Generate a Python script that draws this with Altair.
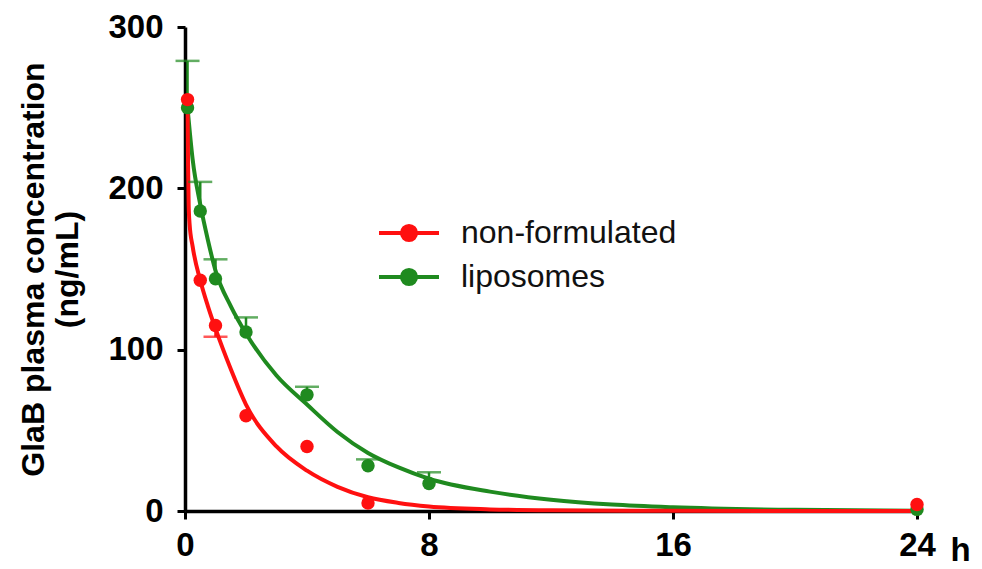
import altair as alt
import pandas as pd

series = ["non-formulated", "liposomes"]
colors = ["#ff1010", "#1f8a1f"]

# measured points
time_nf = [0.083, 0.5, 1, 2, 4, 6, 24]
conc_nf = [255, 143, 115, 59, 40, 5, 4]
time_lip = [0.083, 0.5, 1, 2, 4, 6, 8, 24]
conc_lip = [250, 186, 144, 111, 72, 28, 17, 1]

# error bars (one-sided)
err_nf_time = [1]
err_nf_base = [115]
err_nf_end = [108]
err_lip_time = [0.083, 0.5, 1, 2, 4, 6, 8]
err_lip_base = [250, 186, 144, 111, 72, 28, 17]
err_lip_end = [279, 204, 156, 120, 77, 32, 24]

# fitted curves
fit_nf_time = [0.083, 0.1, 0.12, 0.15, 0.25, 0.5, 0.75, 1, 1.5, 2, 3, 4, 5, 6, 7, 8, 10, 12, 16, 24]
fit_nf_conc = [255, 215, 190, 178, 164, 143, 127, 113, 88, 66, 40, 25, 15, 8.5, 5, 2.8, 1, 0.4, 0.1, 0]
fit_lip_time = [0.083, 0.25, 0.5, 0.75, 1, 1.5, 2, 3, 4, 5, 6, 7, 8, 10, 12, 14, 16, 20, 24]
fit_lip_conc = [250, 218, 190, 168, 149, 127, 110, 84, 66, 49, 36, 27, 20, 12, 7, 4, 2.3, 0.7, 0.2]

pts = pd.concat([
    pd.DataFrame({"t": time_lip, "c": conc_lip, "s": series[1], "o": 0}),
    pd.DataFrame({"t": time_nf, "c": conc_nf, "s": series[0], "o": 1}),
])
fits = pd.concat([
    pd.DataFrame({"t": fit_lip_time, "c": fit_lip_conc, "s": series[1], "o": 0}),
    pd.DataFrame({"t": fit_nf_time, "c": fit_nf_conc, "s": series[0], "o": 1}),
])
errs = pd.concat([
    pd.DataFrame({"t": err_lip_time, "c": err_lip_base, "e": err_lip_end, "s": series[1]}),
    pd.DataFrame({"t": err_nf_time, "c": err_nf_base, "e": err_nf_end, "s": series[0]}),
])

FONT = "Liberation Sans"
xscale = alt.Scale(domain=[0, 24], nice=False, zero=False)
yscale = alt.Scale(domain=[0, 300], nice=False)
cscale = alt.Scale(domain=series, range=colors)

xax = alt.Axis(values=[0, 8, 16, 24], title="h", titleAngle=0, titleX=775, titleY=49,
               titleBaseline="alphabetic", titleAlign="center", titleFontSize=33,
               titleFontWeight="bold", labelPadding=10, labelFlush=False)
yax = alt.Axis(values=[0, 100, 200, 300], title=["GlaB plasma concentration", "(ng/mL)"],
               titleFontSize=32, titleFontWeight="bold", titlePadding=23, labelPadding=14,
               titleLineHeight=34, labelFlush=False)

X = alt.X("t:Q", scale=xscale, axis=xax)
Y = alt.Y("c:Q", scale=yscale, axis=yax)

sym = "M-2,0L2,0M-0.47,0A0.47,0.47,0,1,1,0.47,0A0.47,0.47,0,1,1,-0.47,0Z"
legend = alt.Legend(
    title=None, orient="none", legendX=207, legendY=189,
    symbolType=sym, symbolSize=900, symbolStrokeWidth=4, symbolOpacity=1,
    labelFont=FONT, labelFontSize=32, labelOffset=35, rowPadding=11,
    labelLimit=0, labelColor="#111111")
C = alt.Color("s:N", scale=cscale, legend=legend)

lines = alt.Chart(fits).mark_line(strokeWidth=4, interpolate="monotone").encode(
    x=X, y=Y, detail="s:N", order="o:Q", color=C,
)
rules = alt.Chart(errs).mark_rule(strokeWidth=2.5).encode(
    x=X, y=Y, y2="e:Q", color=C,
)
caps = alt.Chart(errs).mark_tick(orient="horizontal", size=24, thickness=2.5).encode(
    x=X, y=alt.Y("e:Q", scale=yscale), color=C,
)
points = alt.Chart(pts).mark_point(filled=True, size=180, opacity=1).encode(
    x=X, y=Y, order="o:Q", color=C,
)

chart = alt.layer(lines, rules, caps, points).properties(
    width=732, height=484,
    padding={"left": 177, "top": 19, "right": 55, "bottom": 50},
    autosize=alt.AutoSizeParams(type="none"),
    background="white",
).configure_view(stroke=None).configure_axis(
    grid=False, domainColor="black", domainWidth=3.5, tickColor="black", tickWidth=3,
    tickSize=8, labelFont=FONT, labelFontSize=33, labelFontWeight="bold", labelColor="black",
    titleFont=FONT, titleColor="black",
)

chart.save("out.html", embed_options={"renderer": "svg", "actions": False})
